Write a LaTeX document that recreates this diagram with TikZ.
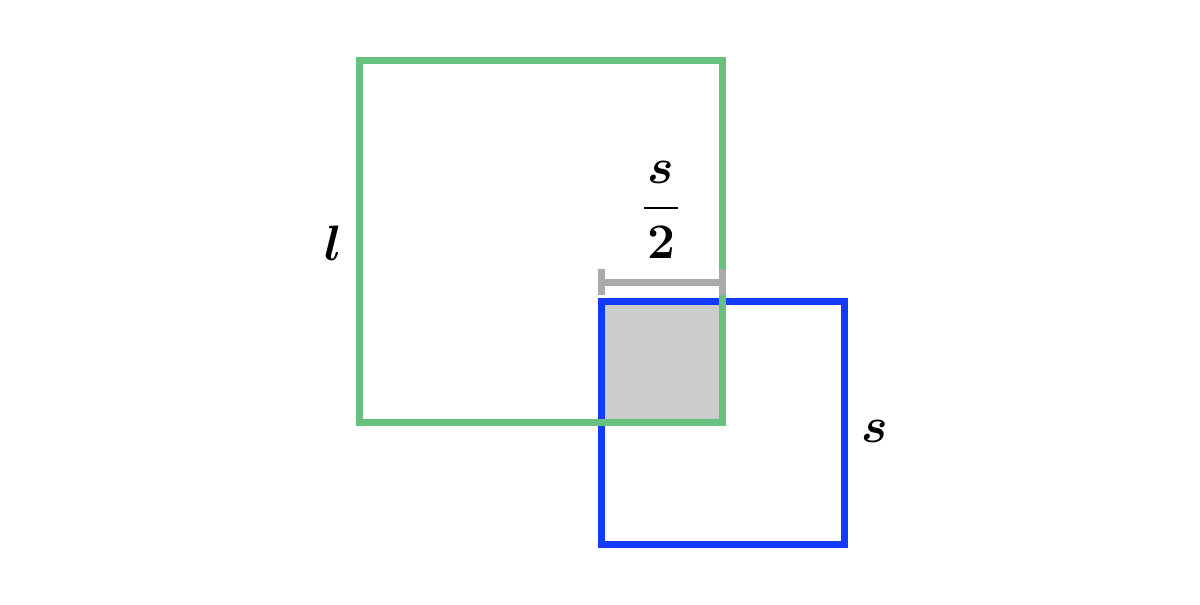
\documentclass[tikz,border=0pt]{standalone}
\usepackage{xcolor}
\usepackage{amsmath}
\usepackage{tikz}
\usetikzlibrary{positioning,arrows.meta}
\definecolor{sqgreen}{RGB}{102,194,126}
\definecolor{sqblue}{RGB}{20,58,255}
\definecolor{overlapgray}{RGB}{204,204,204}
\definecolor{dimgray}{RGB}{170,170,170}

\begin{document}
\begin{tikzpicture}[x=0.5pt, y=-0.5pt, sqline/.style={line width=3.5pt}, dimline/.style={line width=3.5pt, draw=dimgray}, lbl/.style={inner sep=0pt, font=\fontsize{28}{32}\selectfont\boldmath}]
\useasboundingbox (0,0) rectangle (1200,605);
\coordinate (lbig) at (359,60);
\coordinate (rbig) at (722,422);
\coordinate (lsmall) at (601,301);
\coordinate (rsmall) at (844,544);
\coordinate (dimleft) at (601,282);
\coordinate (dimright) at (722,282);
% overlap of the two squares
\fill[overlapgray] (lsmall) rectangle (rbig);
\draw[sqline, draw=sqblue] (lsmall) rectangle (rsmall);
\draw[sqline, draw=sqgreen] (lbig) rectangle (rbig);
% half side measure
\draw[dimline] (dimleft) -- (dimright);
\draw[dimline] ([yshift=6.5pt]dimleft) -- ([yshift=-6.5pt]dimleft);
\draw[dimline] ([yshift=6.5pt]dimright) -- ([yshift=-6.5pt]dimright);
\node[lbl] (half) at (661,210) {$\dfrac{s}{\mkern1mu 2\mkern1mu}$};
\node[lbl] (lside) at (333,243) {$l$};
\node[lbl] (sside) at (875,431) {$s$};
\end{tikzpicture}
\end{document}
